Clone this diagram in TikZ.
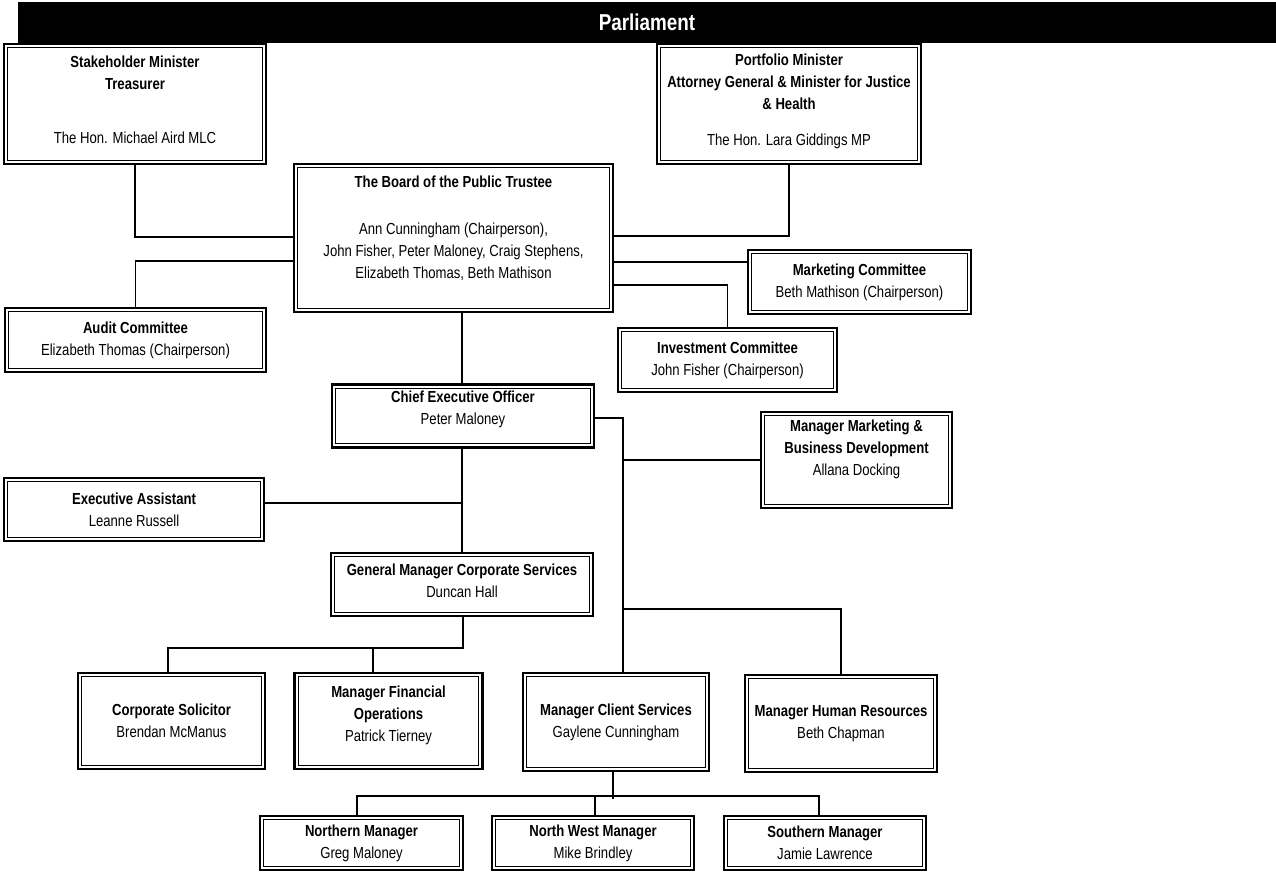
\documentclass[tikz,border=0pt]{standalone}
\usepackage{fontspec}
\setmainfont{Liberation Sans}[FakeStretch=0.82]
\usetikzlibrary{calc}

\tikzset{
    unit/.style={draw, line width=2.4pt, align=center, inner sep=0pt,
                 font=\fontsize{16}{22}\selectfont,
                 path picture={\draw[line width=1.1pt]
                     ($(path picture bounding box.north west)+(3.6pt,-3.6pt)$) rectangle
                     ($(path picture bounding box.south east)+(-3.6pt,3.6pt)$);}}
}

\begin{document}
\begin{tikzpicture}[x=1pt,y=-1pt]
    \useasboundingbox (0,0) rectangle (1276,872);

    % Parliament bar across the top
    \node[fill=black, text=white, inner sep=0pt, minimum width=1258pt, minimum height=41pt,
          font=\fontsize{23}{26}\selectfont\bfseries] (parl) at (647,22.5) {Parliament};

    % Add or remove boxes here, use the tuple for the centre
    \begin{scope}[every node/.style={unit}]
    \node[minimum width=262pt, minimum height=120pt] (stake) at (135,104) {\textbf{Stakeholder Minister}\\\textbf{Treasurer}\\[32pt]The Hon. Michael Aird MLC\\[-14pt]~};
    \node[minimum width=264pt, minimum height=120pt] (port) at (789,104) {\textbf{Portfolio Minister}\\\textbf{Attorney General \& Minister for Justice}\\\textbf{\& Health}\\[14pt]The Hon. Lara Giddings MP\\[-14pt]~};
    \node[minimum width=319pt, minimum height=148pt] (board) at (453.5,238) {\textbf{The Board of the Public Trustee}\\[25pt]Ann Cunningham (Chairperson),\\John Fisher, Peter Maloney, Craig Stephens,\\Elizabeth Thomas, Beth Mathison\\[-1pt]~};
    \node[minimum width=223pt, minimum height=64pt] (mktc) at (859.5,282) {\textbf{Marketing Committee}\\Beth Mathison (Chairperson)};
    \node[minimum width=261pt, minimum height=64pt] (audit) at (135.5,340) {\textbf{Audit Committee}\\Elizabeth Thomas (Chairperson)};
    \node[minimum width=219pt, minimum height=64pt] (invc) at (727.5,360) {\textbf{Investment Committee}\\John Fisher (Chairperson)};
    \node[minimum width=262pt, minimum height=63pt] (ceo) at (463,416) {\textbf{Chief Executive Officer}\\Peter Maloney\\[-6pt]~};
    \node[minimum width=191pt, minimum height=96pt] (mmbd) at (856.5,460) {\textbf{Manager Marketing \&}\\\textbf{Business Development}\\Allana Docking\\[3pt]~};
    \node[minimum width=260pt, minimum height=63pt] (exec) at (134,509.5) {\textbf{Executive Assistant}\\Leanne Russell};
    \node[minimum width=262pt, minimum height=63pt] (gm) at (462,584.5) {\textbf{General Manager Corporate Services}\\Duncan Hall\\[-15pt]~};
    \node[minimum width=187pt, minimum height=96pt] (corp) at (171.5,721) {\textbf{Corporate Solicitor}\\Brendan McManus};
    \node[minimum width=188pt, minimum height=96pt] (fin) at (388.5,721) {\textbf{Manager Financial}\\\textbf{Operations}\\Patrick Tierney\\[-7pt]~};
    \node[minimum width=186pt, minimum height=98pt] (cs) at (616,722) {\textbf{Manager Client Services}\\Gaylene Cunningham};
    \node[minimum width=192pt, minimum height=97pt] (hr) at (841,723.5) {\textbf{Manager Human Resources}\\Beth Chapman};
    \node[minimum width=203pt, minimum height=54pt] (north) at (361.5,843) {\textbf{Northern Manager}\\Greg Maloney};
    \node[minimum width=202pt, minimum height=54pt] (nw) at (593,843) {\textbf{North West Manager}\\Mike Brindley};
    \node[minimum width=202pt, minimum height=54pt] (south) at (825,843) {\textbf{Southern Manager}\\Jamie Lawrence};
    \end{scope}

    % junction points of the lines
    \coordinate (jexec) at (462,503);
    \coordinate (jmm) at (623,460);
    \coordinate (jhr) at (623,609);
    \coordinate (jgm) at (168,648);
    \coordinate (jfin) at (373,648);
    \coordinate (jcs) at (613,799);
    \coordinate (jnw) at (595,796);

    % Remove or add new lines here
    \begin{scope}[line width=1.8pt]
    \draw (stake.south) |- (board.west |- 0,237);
    \draw (port.south) |- (board.east |- 0,236);
    \draw (board.west |- 0,261) -| (audit.north);
    \draw (board.east |- 0,262) -- (mktc.west |- 0,262);
    \draw (board.east |- 0,285) -| (invc.north);
    \draw (board.south -| 462,0) -- (ceo.north -| 462,0);
    \draw (ceo.south -| 462,0) -- (gm.north -| 462,0);
    \draw (exec.east |- jexec) -- (jexec);
    \draw (ceo.east |- 0,418) -| (cs.north -| jmm);
    \draw (jmm) -- (mmbd.west |- jmm);
    \draw (jhr) -| (hr.north);
    \draw (gm.south -| 463,0) |- (jgm) -- (corp.north -| jgm);
    \draw (jfin) -- (fin.north -| jfin);
    \draw (cs.south -| jcs) -- (jcs);
    \draw (north.north -| 357,0) |- (jnw) -| (south.north -| 819,0);
    \draw (jnw) -- (nw.north -| jnw);
    \end{scope}

\end{tikzpicture}
\end{document}
